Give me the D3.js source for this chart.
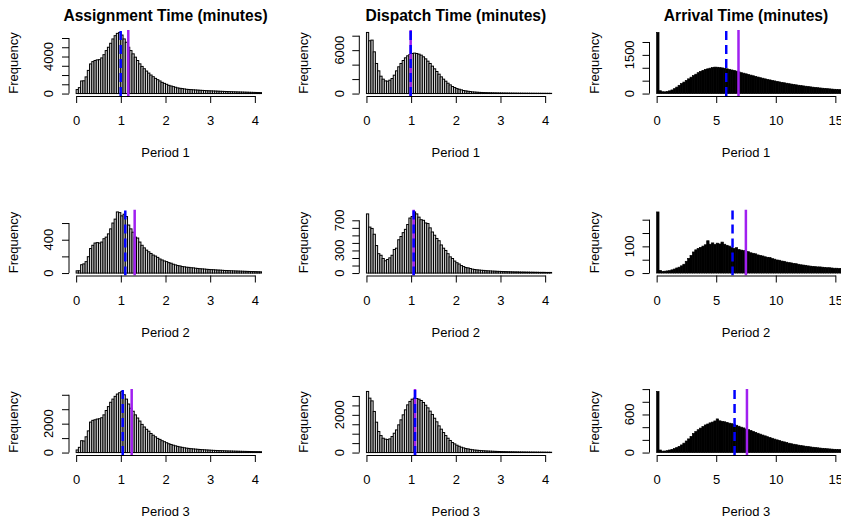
<!DOCTYPE html>
<html>
<head>
<meta charset="utf-8">
<script src="https://cdn.jsdelivr.net/npm/d3@7"></script>
<style>
  body { margin: 0; background: #fff; }
  svg { display: block; font-family: "Liberation Sans", Arial, Helvetica, sans-serif; }
</style>
</head>
<body>
<script>
// Histogram counts, one value per bin (bins start at 0)
const assignBin = 0.05
const dispatchBin = 0.05
const arrivalBin = 0.2

const assignP1 = [430, 640, 1360, 1380, 1800, 2500, 3200, 3450, 3570, 3640, 3660, 3850, 4200, 4640, 5000, 5430, 5900, 6250, 6500, 6600,
  6320, 5900, 5540, 5000, 4640, 4290, 3930, 3570, 3210, 2930, 2680, 2430, 2210, 2000, 1820, 1640, 1500, 1360, 1210, 1100,
  1000, 890, 820, 750, 680, 610, 570, 540, 500, 460, 440, 425, 405, 390, 372, 356, 342, 326, 312, 301,
  290, 279, 270, 259, 247, 238, 229, 219, 210, 199, 190, 183, 175, 167, 161, 152, 146, 138, 131, 124, 117, 110, 104]
const assignP2 = [27, 27, 100, 110, 137, 196, 294, 333, 360, 365, 360, 372, 412, 431, 470, 530, 600, 647, 733, 725,
  686, 706, 678, 576, 530, 490, 431, 420, 372, 333, 302, 275, 255, 235, 216, 204, 188, 169, 157, 145,
  137, 125, 118, 106, 98, 90, 86, 78, 75, 70, 68, 64, 62, 58, 55, 52, 50, 48, 45, 43,
  41, 40, 38, 36, 35, 33, 31, 30, 29, 27, 26, 25, 24, 23, 22, 21, 20, 19, 18, 18, 17, 16, 15]
const assignP3 = [180, 360, 820, 800, 1090, 1500, 2110, 2230, 2270, 2320, 2340, 2410, 2610, 2910, 3180, 3480, 3700, 3890, 4050, 4140,
  4230, 4000, 3700, 3360, 3070, 2860, 2610, 2390, 2180, 1950, 1770, 1610, 1480, 1320, 1200, 1090, 980, 910, 820, 750,
  680, 610, 560, 510, 465, 425, 390, 360, 330, 305, 285, 268, 252, 238, 225, 212, 200, 190, 180, 170,
  160, 152, 145, 138, 132, 126, 120, 114, 109, 104, 99, 95, 91, 87, 83, 80, 77, 74, 71, 68, 65, 63, 60]

const dispatchP1 = [8450, 7300, 7390, 5770, 4160, 3140, 2400, 1990, 1750, 1710, 1850, 2080, 2540, 3140, 3700, 4160, 4570, 4940, 5220, 5400,
  5540, 5590, 5540, 5450, 5310, 5080, 4800, 4480, 4160, 3790, 3420, 3050, 2680, 2310, 1990, 1710, 1430, 1200, 970, 830,
  690, 600, 510, 420, 370, 320, 280, 230, 210, 185, 165, 150, 138, 127, 118, 110, 102, 96, 90, 85,
  80, 76, 72, 68, 65, 62, 59, 56, 53, 51, 49, 47, 45, 43, 41, 39, 37, 36, 34, 33, 31, 30, 29]
const dispatchP2 = [785, 610, 592, 515, 365, 257, 236, 193, 163, 180, 202, 236, 313, 330, 442, 485, 536, 580, 644, 730,
  751, 811, 785, 742, 708, 700, 665, 657, 600, 545, 502, 459, 429, 373, 330, 300, 257, 215, 193, 159,
  137, 120, 99, 86, 73, 69, 60, 52, 47, 43, 40, 37, 35, 32, 30, 28, 26, 25, 23, 22,
  21, 20, 19, 18, 17, 16, 15, 15, 14, 13, 13, 12, 12, 11, 11, 10, 10, 9, 9, 9, 8, 8, 8]
const dispatchP3 = [3240, 2885, 2740, 2180, 1610, 1115, 900, 760, 710, 690, 725, 850, 1025, 1200, 1470, 1735, 2000, 2265, 2530, 2710,
  2830, 2885, 2865, 2830, 2760, 2655, 2510, 2370, 2195, 2020, 1820, 1630, 1415, 1240, 1060, 900, 760, 640, 530, 460,
  390, 335, 283, 248, 212, 195, 168, 150, 133, 124, 112, 102, 94, 86, 80, 74, 69, 64, 60, 56,
  52, 49, 46, 43, 41, 39, 37, 35, 33, 31, 30, 28, 27, 26, 25, 24, 23, 22, 21, 20, 19, 18, 17]

const arrivalP1 = [2370, 110, 70, 66, 80, 105, 140, 190, 250, 320, 385, 445, 510, 570, 635, 695, 750, 810, 860, 900,
  935, 960, 985, 1005, 1025, 1020, 1005, 995, 980, 960, 940, 915, 895, 870, 840, 810, 790, 765, 740, 715,
  690, 665, 640, 615, 595, 570, 550, 530, 510, 490, 470, 452, 435, 418, 400, 383, 368, 352, 338, 323,
  310, 297, 284, 272, 260, 248, 238, 227, 217, 208, 199, 190, 182, 174, 166, 159, 152, 146]
const arrivalP2 = [229, 10, 6, 7, 8, 9, 12, 15, 19, 22, 27, 33, 44, 55, 66, 79, 87, 92, 96, 101,
  106, 121, 108, 113, 107, 112, 109, 116, 108, 104, 101, 96, 92, 95, 88, 86, 84, 81, 80, 76,
  74, 72, 68, 66, 64, 61, 59, 58, 54, 52, 49, 48, 45, 44, 41, 39, 38, 36, 35, 33,
  31, 30, 29, 27, 26, 25, 24, 23, 23, 22, 21, 20, 20, 19, 18, 18, 17, 17]
const arrivalP3 = [963, 40, 22, 24, 30, 40, 50, 62, 78, 98, 120, 148, 182, 215, 255, 300, 330, 360, 385, 410,
  435, 450, 468, 480, 498, 530, 500, 492, 485, 475, 463, 455, 442, 430, 415, 400, 388, 372, 362, 348,
  332, 318, 304, 290, 276, 263, 250, 237, 225, 212, 200, 190, 178, 168, 157, 147, 139, 131, 124, 117,
  110, 105, 99, 94, 89, 84, 80, 75, 71, 67, 63, 60, 57, 54, 51, 48, 46, 44]

// Means (solid purple) and medians (dashed blue), periods 1-3
const assignMeans = [1.167, 1.31, 1.243]
const assignMedians = [0.997, 1.10, 1.042]
const dispatchMeans = [0.99, 1.057, 1.087]
const dispatchMedians = [0.99, 1.057, 1.087]
const arrivalMeans = [6.87, 7.49, 7.58]
const arrivalMedians = [5.84, 6.37, 6.54]

// Titles and tick labels
const titles = ['Assignment Time (minutes)', 'Dispatch Time (minutes)', 'Arrival Time (minutes)']
const periods = ['Period 1', 'Period 2', 'Period 3']
const shortXTicks = [0, 1, 2, 3, 4]
const longXTicks = [0, 5, 10, 15]
const assignYTicks = [[0, 1000, 2000, 3000, 4000, 5000, 6000], [0, 200, 400, 600], [0, 1000, 2000, 3000, 4000]]
const assignYLabels = [[0, 4000], [0, 400], [0, 2000]]
const dispatchYTicks = [[0, 2000, 4000, 6000, 8000], [0, 100, 200, 300, 400, 500, 600, 700], [0, 500, 1000, 1500, 2000, 2500, 3000]]
const dispatchYLabels = [[0, 6000], [0, 300, 700], [0, 2000]]
const arrivalYTicks = [[0, 500, 1000, 1500, 2000], [0, 50, 100, 150, 200], [0, 200, 400, 600, 800, 1000]]
const arrivalYLabels = [[0, 1500], [0, 100], [0, 600]]

const width = 841
const height = 522
const colLeft = [69, 359.3, 649.5]
const rowTop = [30, 209.5, 389]
const plotW = 193
const plotH = 66
const padX = plotW * 0.04 / 1.08
const padY = plotH * 0.04 / 1.08

const columns = [
  { bin: assignBin, xMax: 4, xTicks: shortXTicks, counts: [assignP1, assignP2, assignP3],
    means: assignMeans, medians: assignMedians, yTicks: assignYTicks, yLabels: assignYLabels, fill: '#d3d3d3', border: 1 },
  { bin: dispatchBin, xMax: 4, xTicks: shortXTicks, counts: [dispatchP1, dispatchP2, dispatchP3],
    means: dispatchMeans, medians: dispatchMedians, yTicks: dispatchYTicks, yLabels: dispatchYLabels, fill: '#d3d3d3', border: 1 },
  { bin: arrivalBin, xMax: 15, xTicks: longXTicks, counts: [arrivalP1, arrivalP2, arrivalP3],
    means: arrivalMeans, medians: arrivalMedians, yTicks: arrivalYTicks, yLabels: arrivalYLabels, fill: '#000', border: 0.7 }
]

const svg = d3.select('body')
  .append('svg')
  .attr('width', width)
  .attr('height', height)

svg.append('rect')
  .attr('width', width)
  .attr('height', height)
  .attr('fill', '#fff')

const defs = svg.append('defs')

columns.forEach((col, c) => {
  const left = colLeft[c]

  // Column title
  svg.append('text')
    .text(titles[c])
    .attr('x', left + plotW / 2)
    .attr('y', 21)
    .attr('text-anchor', 'middle')
    .style('font-size', '15.6px')
    .style('font-weight', 'bold')

  col.counts.forEach((counts, r) => {
    const top = rowTop[r]
    const bottom = top + plotH

    const xScale = d3.scaleLinear()
      .domain([0, col.xMax])
      .range([left + padX, left + plotW - padX])

    const yScale = d3.scaleLinear()
      .domain([0, d3.max(counts)])
      .range([bottom - padY, top + padY])

    const clipId = `clip-${c}-${r}`
    defs.append('clipPath')
      .attr('id', clipId)
      .append('rect')
      .attr('x', left)
      .attr('y', top)
      .attr('width', plotW)
      .attr('height', plotH)

    const plot = svg.append('g')
      .attr('clip-path', `url(#${clipId})`)

    // Bars
    plot.selectAll('rect')
      .data(counts)
      .join('rect')
      .attr('x', (d, i) => xScale(i * col.bin))
      .attr('width', xScale(col.bin) - xScale(0))
      .attr('y', d => yScale(d))
      .attr('height', d => yScale(0) - yScale(d))
      .attr('fill', col.fill)
      .attr('stroke', '#000')
      .attr('stroke-width', col.border)

    // Mean line
    plot.append('line')
      .attr('x1', xScale(col.means[r]))
      .attr('x2', xScale(col.means[r]))
      .attr('y1', bottom)
      .attr('y2', top)
      .attr('stroke', '#a020f0')
      .attr('stroke-width', 2.5)

    // Median line
    plot.append('line')
      .attr('x1', xScale(col.medians[r]))
      .attr('x2', xScale(col.medians[r]))
      .attr('y1', bottom)
      .attr('y2', top)
      .attr('stroke', '#0000ff')
      .attr('stroke-width', 2.5)
      .attr('stroke-dasharray', '9,5')

    // x-axis
    const xAxis = svg.append('g')
      .attr('transform', `translate(0, ${bottom})`)
      .call(d3.axisBottom(xScale)
        .tickValues(col.xTicks)
        .tickSizeInner(7)
        .tickSizeOuter(0)
        .tickPadding(12.8)
        .tickFormat(d3.format('d')))
    xAxis.style('font-family', null).style('font-size', '13px')
    xAxis.select('.domain').attr('stroke', '#000')
    xAxis.selectAll('text').attr('fill', '#000')

    // y-axis (ticks only, R style line from first to last tick)
    const ticks = col.yTicks[r]
    const yAxis = svg.append('g')
      .attr('transform', `translate(${left}, 0)`)
      .call(d3.axisLeft(yScale)
        .tickValues(ticks)
        .tickSizeInner(7)
        .tickSizeOuter(0)
        .tickFormat(''))
    yAxis.select('.domain').remove()
    yAxis.append('line')
      .attr('y1', yScale(ticks[0]))
      .attr('y2', yScale(ticks[ticks.length - 1]))
      .attr('stroke', '#000')

    svg.selectAll(null)
      .data(col.yLabels[r])
      .join('text')
      .text(d => d)
      .attr('transform', d => `translate(${left - 15.7}, ${yScale(d)}) rotate(-90)`)
      .attr('text-anchor', 'middle')
      .style('font-size', '13px')

    // Axis titles
    svg.append('text')
      .text('Frequency')
      .attr('transform', `translate(${left - 51}, ${top + plotH / 2}) rotate(-90)`)
      .attr('text-anchor', 'middle')
      .style('font-size', '13px')

    svg.append('text')
      .text(periods[r])
      .attr('x', left + plotW / 2)
      .attr('y', bottom + 61)
      .attr('text-anchor', 'middle')
      .style('font-size', '13px')
  })
})
</script>
</body>
</html>
